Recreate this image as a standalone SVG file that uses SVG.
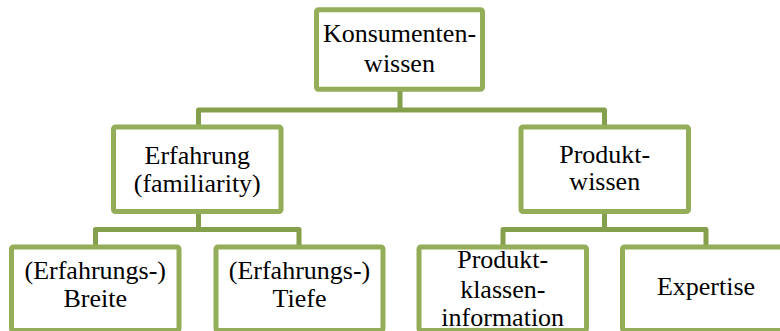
<svg xmlns="http://www.w3.org/2000/svg" width="780" height="331" viewBox="0 0 780 331">
<style>
.box{fill:#ffffff;stroke:#93ad58;stroke-width:5;stroke-linejoin:round}
.con{fill:none;stroke:#85a04d;stroke-width:5;stroke-linejoin:round;stroke-linecap:butt}
.t{font-size:26px;fill:#000;text-anchor:middle}
</style>
<rect width="780" height="331" fill="#ffffff"/>
<g id="connectors">
<path class="con" d="M400,89 V110 M198.5,127 V110 H604.5 V127"/>
<path class="con" d="M198.5,211.5 V229.5 M95.5,247 V229.5 H299 V247"/>
<path class="con" d="M604.5,211.5 V229.5 M503,247 V229.5 H706 V247"/>
</g>
<g font-family="Liberation Serif, DejaVu Serif, serif">
<g id="n-konsumentenwissen">
<rect class="box" x="316.5" y="9.8" width="166" height="79.4" rx="2"/>
<text class="t" x="399.5" y="41.7">Konsumenten-</text>
<text class="t" x="399.5" y="71.7">wissen</text>
</g>
<g id="n-erfahrung">
<rect class="box" x="113.5" y="127" width="167.5" height="84.5" rx="2"/>
<text class="t" x="197.25" y="163.5">Erfahrung</text>
<text class="t" x="197.25" y="191.5">(familiarity)</text>
</g>
<g id="n-produktwissen">
<rect class="box" x="521" y="127" width="167.5" height="84.5" rx="2"/>
<text class="t" x="604.75" y="163">Produkt-</text>
<text class="t" x="604.75" y="190">wissen</text>
</g>
<g id="n-breite">
<rect class="box" x="11.5" y="247" width="167.5" height="83.5" rx="2"/>
<text class="t" x="95.25" y="279.3">(Erfahrungs-)</text>
<text class="t" x="95.25" y="307.3">Breite</text>
</g>
<g id="n-tiefe">
<rect class="box" x="216" y="247" width="167" height="83.5" rx="2"/>
<text class="t" x="299.5" y="279.3">(Erfahrungs-)</text>
<text class="t" x="299.5" y="307.3">Tiefe</text>
</g>
<g id="n-produktklassen">
<rect class="box" x="419" y="247" width="167.5" height="83.5" rx="2"/>
<text class="t" x="502.75" y="267.5">Produkt-</text>
<text class="t" x="502.75" y="297.5">klassen-</text>
<text class="t" x="502.75" y="326">information</text>
</g>
<g id="n-expertise">
<rect class="box" x="622.5" y="247" width="167.5" height="83.5" rx="2"/>
<text class="t" x="706" y="295">Expertise</text>
</g>
</g>
</svg>
